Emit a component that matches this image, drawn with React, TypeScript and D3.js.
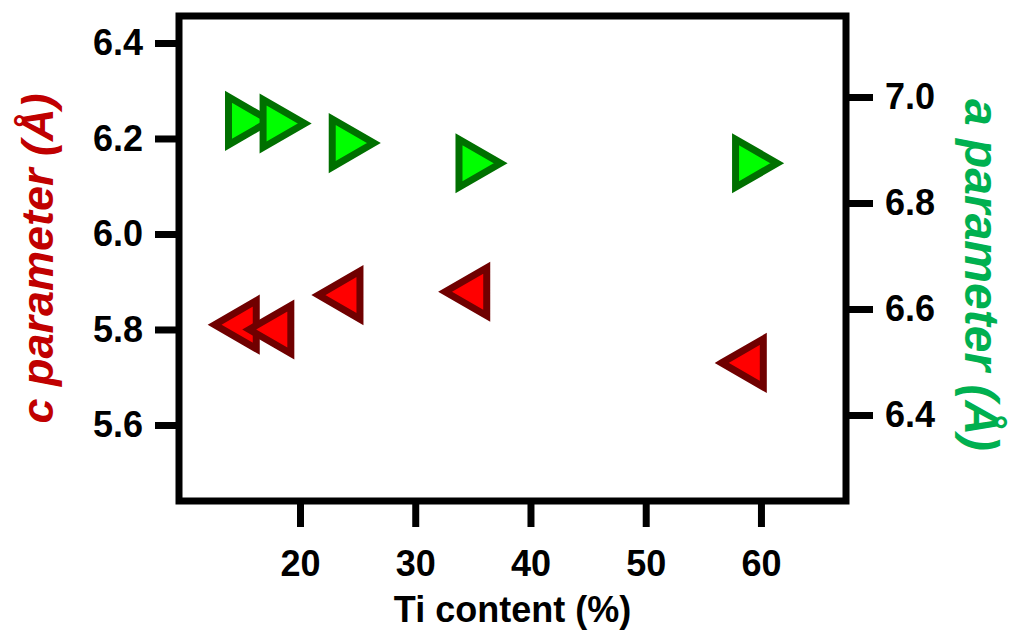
import React, { useEffect, useRef } from 'react';
import * as d3 from 'd3';

// Ti content (%) for each sample
const tiContent = [15, 18, 24, 35, 59];
// c parameter (Å), left axis, red left-pointing triangles
const cParam = [5.81, 5.80, 5.872, 5.879, 5.73];
// a parameter (Å), right axis, green right-pointing triangles
const aParam = [6.955, 6.95, 6.913, 6.875, 6.875];

const xTicks = [20, 30, 40, 50, 60];
const cTicks = [5.6, 5.8, 6.0, 6.2, 6.4];
const aTicks = [6.4, 6.6, 6.8, 7.0];

const W = 1024;
const H = 630;
const FONT = '"Liberation Sans", Arial, Helvetica, sans-serif';

const App = () => {
    const ref = useRef<SVGSVGElement>(null);

    useEffect(() => {
        if (!ref.current) return;
        const svg = d3.select(ref.current);
        svg.selectAll('*').remove();

        const left = 179, right = 846, top = 16, bottom = 501;

        const x = d3.scaleLinear().domain([9.5, 67.38]).range([left, right]);
        const yC = d3.scaleLinear().domain([5.4408, 6.4565]).range([bottom, top]);
        const yA = d3.scaleLinear().domain([6.2377, 7.1528]).range([bottom, top]);

        const styleAxis = (g: any) => {
            g.select('.domain').remove();
            g.selectAll('.tick line').attr('stroke', '#000').attr('stroke-width', 7);
            g.selectAll('.tick text')
                .attr('fill', '#000')
                .style('font-family', FONT)
                .style('font-weight', 'bold')
                .style('font-size', '36px');
        };

        svg.append('g')
            .attr('transform', `translate(0,${bottom})`)
            .call(d3.axisBottom(x).tickValues(xTicks).tickSize(26).tickPadding(23).tickFormat(d3.format('d')))
            .call(styleAxis);

        svg.append('g')
            .attr('transform', `translate(${left},0)`)
            .call(d3.axisLeft(yC).tickValues(cTicks).tickSize(24).tickPadding(12).tickFormat(d3.format('.1f')))
            .call(styleAxis);

        svg.append('g')
            .attr('transform', `translate(${right},0)`)
            .call(d3.axisRight(yA).tickValues(aTicks).tickSize(27).tickPadding(12).tickFormat(d3.format('.1f')))
            .call(styleAxis);

        // frame
        svg.append('rect')
            .attr('x', left).attr('y', top)
            .attr('width', right - left).attr('height', bottom - top)
            .attr('fill', 'none').attr('stroke', '#000').attr('stroke-width', 7);

        const tri = d3.symbol().type(d3.symbolTriangle).size(1000);

        // green, right axis
        svg.append('g').selectAll('path')
            .data(tiContent.map((t, i) => ({ t, v: aParam[i] })))
            .join('path')
            .attr('d', tri)
            .attr('transform', d => `translate(${x(d.t)},${yA(d.v)}) rotate(90)`)
            .attr('fill', '#00ff00')
            .attr('stroke', '#007000')
            .attr('stroke-width', 7)
            .attr('stroke-linejoin', 'miter');

        // red, left axis
        svg.append('g').selectAll('path')
            .data(tiContent.map((t, i) => ({ t, v: cParam[i] })))
            .join('path')
            .attr('d', tri)
            .attr('transform', d => `translate(${x(d.t)},${yC(d.v)}) rotate(-90)`)
            .attr('fill', '#ff0000')
            .attr('stroke', '#700000')
            .attr('stroke-width', 7)
            .attr('stroke-linejoin', 'miter');

        // axis titles
        svg.append('text')
            .attr('transform', `translate(${(left + right) / 2},622)`)
            .attr('text-anchor', 'middle')
            .style('font-family', FONT)
            .style('font-weight', 'bold')
            .style('font-size', '36px')
            .text('Ti content (%)');

        svg.append('text')
            .attr('transform', `translate(53,${(top + bottom) / 2}) rotate(-90)`)
            .attr('text-anchor', 'middle')
            .attr('fill', '#c00000')
            .style('font-family', FONT)
            .style('font-weight', 'bold')
            .style('font-style', 'italic')
            .style('font-size', '45px')
            .text('c parameter (Å)');

        svg.append('text')
            .attr('transform', `translate(965,275) rotate(90)`)
            .attr('text-anchor', 'middle')
            .attr('fill', '#00b050')
            .style('font-family', FONT)
            .style('font-weight', 'bold')
            .style('font-style', 'italic')
            .style('font-size', '48px')
            .text('a parameter (Å)');
    }, []);

    return (
        <svg
            ref={ref}
            width={W}
            height={H}
            style={{ position: 'absolute', left: 0, top: 0, background: '#fff' }}
        />
    );
};

export default App;
